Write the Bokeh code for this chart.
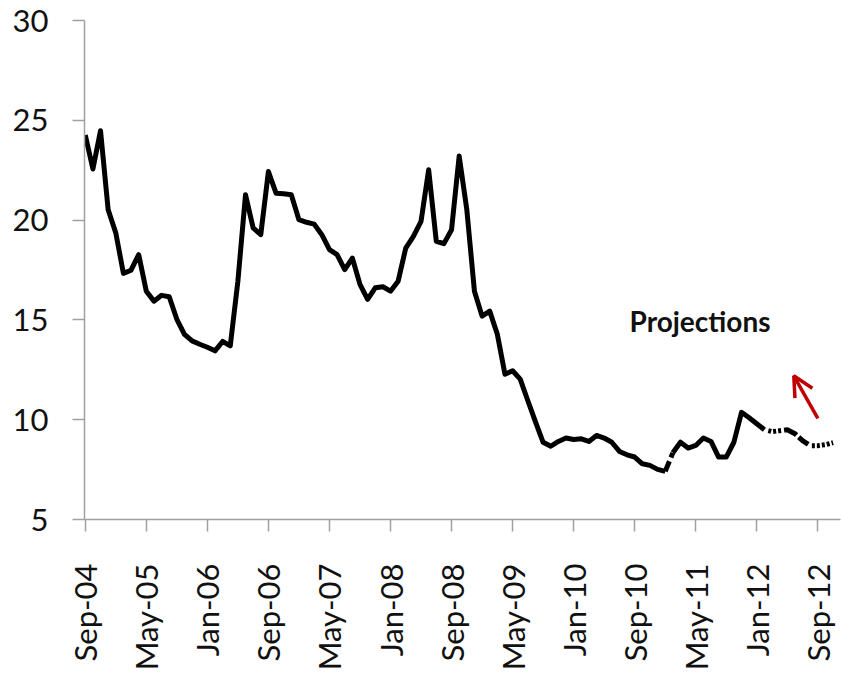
import math
from bokeh.plotting import figure
from bokeh.models import Range1d, FixedTicker, Arrow, OpenHead, Label
from bokeh.embed import file_html
from bokeh.resources import INLINE

# ---- data (monthly, starting Sep-04) ----
start_label = "Sep-04"
hist_values = [24.26, 22.56, 24.48, 20.52, 19.36, 17.33, 17.49, 18.27, 16.44, 15.94,
               16.23, 16.16, 15.03, 14.28, 13.95, 13.78, 13.63, 13.45, 13.92, 13.70,
               16.94, 21.27, 19.61, 19.27, 22.43, 21.35, 21.32, 21.27, 20.02, 19.89,
               19.80, 19.27, 18.52, 18.27, 17.52, 18.10, 16.78, 16.03, 16.61, 16.66,
               16.44, 16.94, 18.60, 19.19, 19.94, 22.52, 18.94, 18.82, 19.52, 23.21,
               20.52, 16.44, 15.19, 15.44, 14.28, 12.28, 12.45, 12.03, 10.95, 9.89,
               8.87, 8.67, 8.91, 9.08, 9.01, 9.04, 8.91, 9.21, 9.08, 8.87,
               8.41, 8.24, 8.13, 7.79, 7.71, 7.51, 7.41]
recent_values = [8.34, 8.87, 8.58, 8.71, 9.08, 8.91, 8.13, 8.13, 8.87, 10.37,
                 10.10, 9.80, 9.50]
proj_values = [9.50, 9.40, 9.45, 9.50, 9.30, 8.95, 8.70, 8.70, 8.75, 8.85]

tick_positions = [0, 8, 16, 24, 32, 40, 48, 56, 64, 72, 80, 88, 96]
tick_labels = ["Sep-04", "May-05", "Jan-06", "Sep-06", "May-07", "Jan-08", "Sep-08",
               "May-09", "Jan-10", "Sep-10", "May-11", "Jan-12", "Sep-12"]
y_ticks = [5, 10, 15, 20, 25, 30]

annotation_text = "Projections"

# ---- month indices ----
hist_x = list(range(len(hist_values)))
recent_x = list(range(len(hist_values), len(hist_values) + len(recent_values)))
proj_x = list(range(recent_x[-1], recent_x[-1] + len(proj_values)))

p = figure(width=842, height=673, output_backend="svg", toolbar_location=None,
           x_range=Range1d(-0.1, 98.97), y_range=Range1d(5, 30),
           min_border_left=84, min_border_top=20, min_border_bottom=152,
           min_border_right=2)
p.outline_line_color = None
p.xgrid.visible = False
p.ygrid.visible = False
p.background_fill_color = "white"
p.border_fill_color = "white"

axis_col = "#a0a0a0"
for ax in (p.xaxis[0], p.yaxis[0]):
    ax.axis_line_color = axis_col
    ax.axis_line_width = 1.5
    ax.major_tick_line_color = axis_col
    ax.major_tick_line_width = 1.5
    ax.major_tick_out = 12
    ax.major_tick_in = 0
    ax.minor_tick_line_color = None
    ax.major_label_text_font = "Lato"
    ax.major_label_text_font_size = "31px"
    ax.major_label_text_color = "#111111"

p.xaxis[0].ticker = FixedTicker(ticks=tick_positions)
p.xaxis[0].major_label_overrides = {t: l for t, l in zip(tick_positions, tick_labels)}
p.xaxis[0].major_label_orientation = math.pi / 2
p.xaxis[0].major_label_standoff = 32

p.yaxis[0].ticker = FixedTicker(ticks=y_ticks)
p.yaxis[0].major_label_standoff = 24

lw = 5
p.line(hist_x, hist_values, line_width=lw, color="black", line_join="round")
p.line([hist_x[-1], recent_x[0]], [hist_values[-1], recent_values[0]],
       line_width=lw, color="black", line_dash="11 4")
p.line(recent_x, recent_values, line_width=lw, color="black", line_join="round")
p.line(proj_x, proj_values, line_width=lw, color="black", line_cap="butt",
       line_dash="0 4 3 2 3 2 3 3 14 3 12 4 3 2 3 2 3 2 3 2 3 2 3 2")

# annotation
p.add_layout(Label(x=80.56, y=14.93, text=annotation_text, text_align="center",
                   text_baseline="alphabetic", text_font="Lato",
                   text_font_style="bold", text_font_size="28px",
                   text_color="#111111"))
p.add_layout(Arrow(x_start=96.0, y_start=10.07, x_end=92.85, y_end=12.2,
                   line_color="#c00000", line_width=3.5,
                   end=OpenHead(size=20, line_color="#c00000", line_width=3.5)))

open("out.html", "w").write(file_html(p, INLINE))
